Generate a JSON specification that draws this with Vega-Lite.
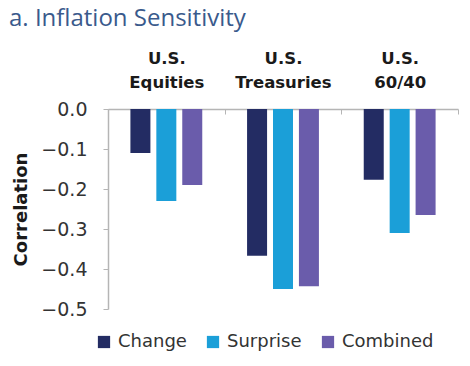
{
  "$schema": "https://vega.github.io/schema/vega-lite/v6.json",
  "width": 350,
  "height": 200,
  "autosize": {"type": "none"},
  "padding": {"left": 108, "top": 109, "right": 12, "bottom": 57},
  "background": "white",
  "title": {
    "text": "a. Inflation Sensitivity",
    "anchor": "start",
    "frame": "group",
    "font": "Open Sans",
    "fontWeight": "normal",
    "fontSize": 24,
    "color": "#3a5a8c",
    "dx": -99,
    "offset": 36,
    "baseline": "top"
  },
  "data": {
    "values": [
      {"asset": "U.S.|Equities", "measure": "Change", "value": -0.11},
      {"asset": "U.S.|Equities", "measure": "Surprise", "value": -0.23},
      {"asset": "U.S.|Equities", "measure": "Combined", "value": -0.19},
      {"asset": "U.S.|Treasuries", "measure": "Change", "value": -0.367},
      {"asset": "U.S.|Treasuries", "measure": "Surprise", "value": -0.45},
      {"asset": "U.S.|Treasuries", "measure": "Combined", "value": -0.443},
      {"asset": "U.S.|60/40", "measure": "Change", "value": -0.177},
      {"asset": "U.S.|60/40", "measure": "Surprise", "value": -0.31},
      {"asset": "U.S.|60/40", "measure": "Combined", "value": -0.265}
    ]
  },
  "mark": {"type": "bar", "width": 20},
  "encoding": {
    "x": {
      "field": "asset",
      "type": "nominal",
      "sort": null,
      "scale": {"paddingInner": 0, "paddingOuter": 0},
      "axis": {
        "orient": "top",
        "title": null,
        "labelAngle": 0,
        "labelExpr": "reverse(split(datum.label, '|'))",
        "labelFont": "DejaVu Sans",
        "labelFontWeight": "bold",
        "labelFontSize": 16.5,
        "labelColor": "#1a1a1a",
        "labelLineHeight": -24,
        "labelBaseline": "alphabetic",
        "labelPadding": 27,
        "tickBand": "extent",
        "tickSize": -5,
        "tickColor": "#b5b5b5",
        "domainColor": "#b5b5b5",
        "domainWidth": 1.5
      }
    },
    "xOffset": {
      "field": "measure",
      "type": "nominal",
      "sort": ["Change", "Surprise", "Combined"],
      "scale": {"paddingInner": 0.23, "paddingOuter": 0.865}
    },
    "y": {
      "field": "value",
      "type": "quantitative",
      "scale": {"domain": [-0.5, 0], "nice": false},
      "axis": {
        "values": [0, -0.1, -0.2, -0.3, -0.4, -0.5],
        "format": ".1f",
        "grid": false,
        "title": "Correlation",
        "titleFont": "DejaVu Sans",
        "titleFontWeight": "bold",
        "titleFontSize": 18,
        "titleColor": "#1a1a1a",
        "titlePadding": 10,
        "labelFont": "DejaVu Sans",
        "labelFontSize": 19,
        "labelColor": "#333333",
        "labelPadding": 16,
        "tickColor": "#b5b5b5",
        "tickSize": 5,
        "domainColor": "#b5b5b5",
        "domainWidth": 1.5
      }
    },
    "color": {
      "field": "measure",
      "type": "nominal",
      "sort": ["Change", "Surprise", "Combined"],
      "scale": {"domain": ["Change", "Surprise", "Combined"], "range": ["#232c63", "#1b9fd8", "#6a5cab"]},
      "legend": {
        "orient": "none",
        "legendX": -13,
        "legendY": 224,
        "direction": "horizontal",
        "title": null,
        "symbolType": "square",
        "symbolSize": 150,
        "symbolStrokeWidth": 0,
        "labelFont": "DejaVu Sans",
        "labelFontSize": 18,
        "labelColor": "#333333",
        "columnPadding": 17,
        "labelOffset": 5
      }
    }
  },
  "config": {"view": {"stroke": null}}
}
